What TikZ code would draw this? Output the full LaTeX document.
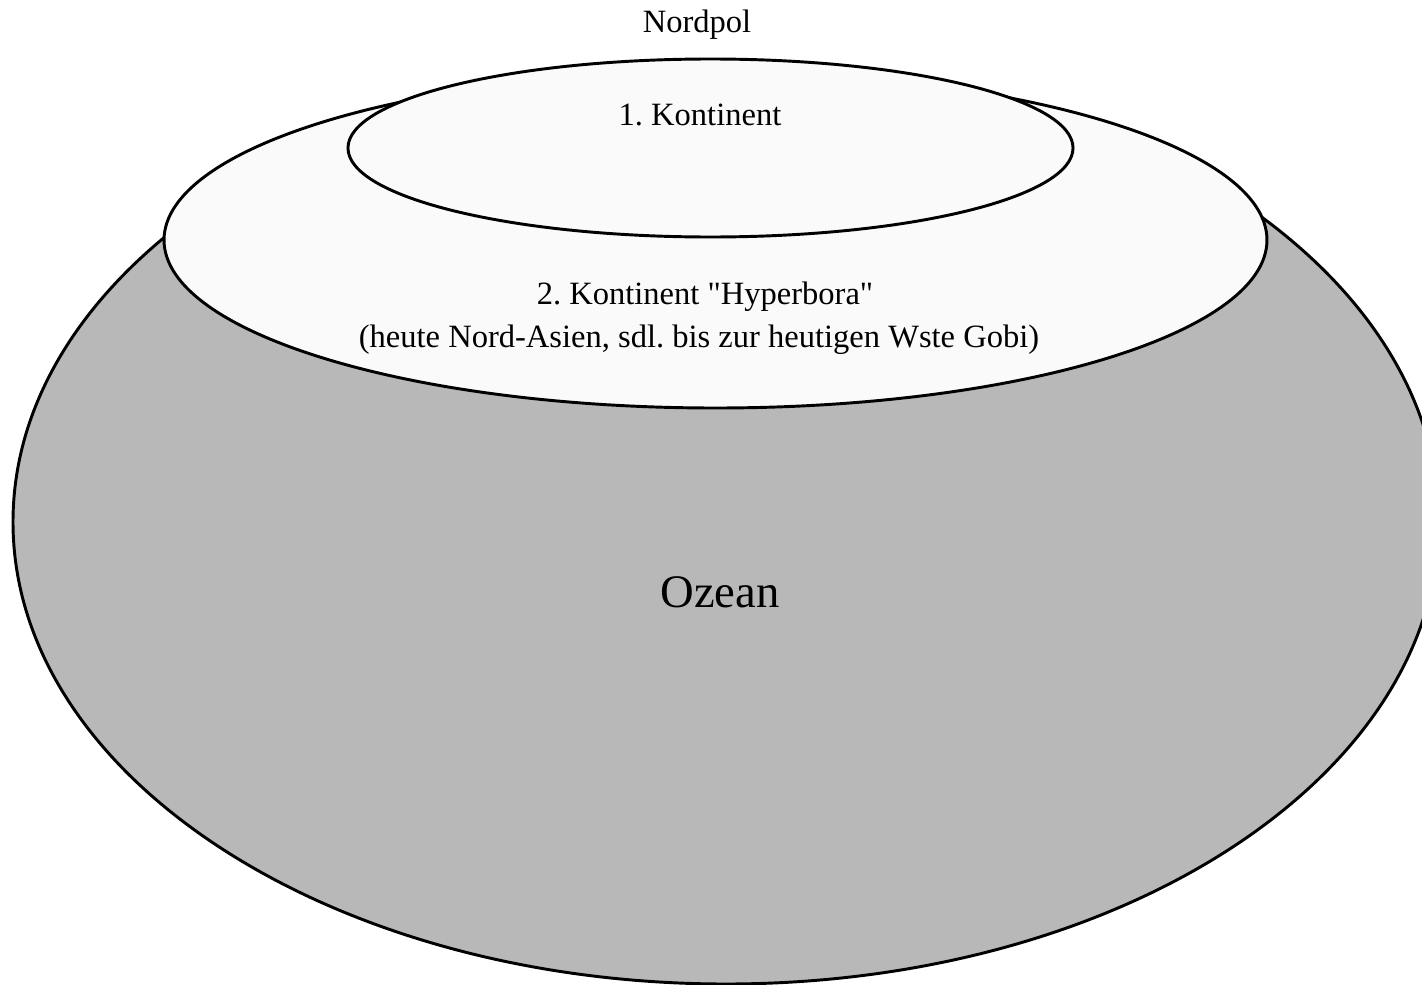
\documentclass[tikz,border=0pt]{standalone}
\usepackage{fontspec}
\setmainfont{Liberation Serif}
\newfontfamily\plainserif{Liberation Serif}[Ligatures=ResetAll]
\begin{document}
\begin{tikzpicture}[x=0.75pt,y=-0.75pt,
  outline/.style={draw=black,line width=2.2pt},
  ocean/.style={outline,fill=black!28},
  land/.style={outline,fill=black!2},
  lbl/.style={font=\plainserif\fontsize{24.4}{28}\selectfont\frenchspacing,inner sep=0pt},
  biglbl/.style={font=\plainserif\fontsize{35}{40}\selectfont,inner sep=0pt}]
\useasboundingbox (0,0) rectangle (1422,985);
\clip (0,0) rectangle (1422,985);
\fill[white] (0,0) rectangle (1422,985);
\draw[ocean] (726,522) ellipse [x radius=534.75pt, y radius=346.5pt];
\draw[land] (715.5,240) ellipse [x radius=413.6pt, y radius=126pt];
\draw[land] (710.5,148) ellipse [x radius=271.9pt, y radius=66.75pt];
\node[lbl] (nordpol) at (697,25) {Nordpol};
\node[lbl] (k1) at (700,115) {1. Kontinent};
\node[lbl] (k2) at (705,297) {2. Kontinent "Hyperbora"};
\node[lbl] (k2b) at (699,340) {(heute Nord-Asien, sdl. bis zur heutigen Wste Gobi)};
\node[biglbl] (ozean) at (720,592) {Ozean};
\end{tikzpicture}
\end{document}
